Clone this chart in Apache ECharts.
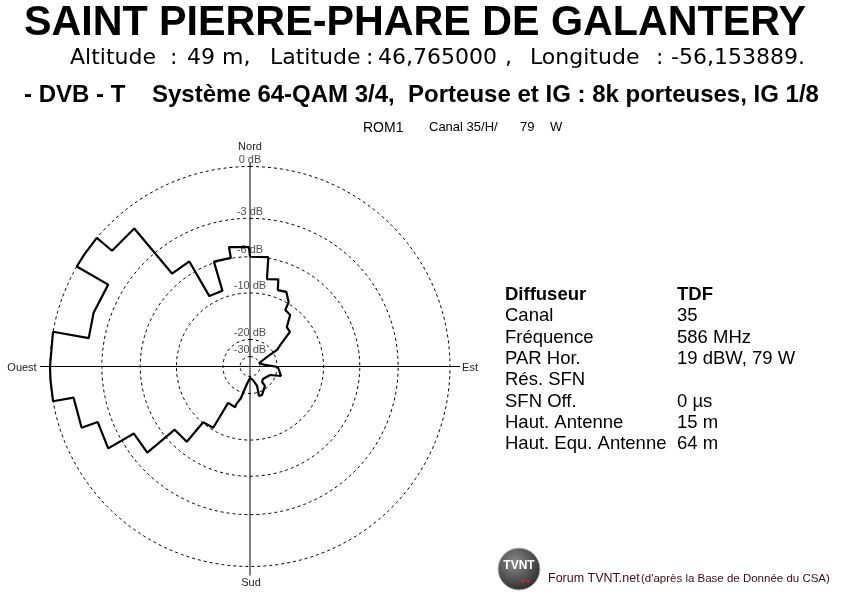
<!DOCTYPE html>
<html>
<head>
<meta charset="utf-8">
<script src="https://cdn.jsdelivr.net/npm/echarts@6/dist/echarts.min.js"></script>
<style>
  html, body { margin: 0; padding: 0; background: #ffffff; }
  #chart { width: 850px; height: 600px; }
</style>
</head>
<body>
<div id="chart"></div>
<script>
// ---- Data ----
// Antenna pattern vertices: azimuth (degrees, clockwise from North) and attenuation (dB)
const azimuthDeg = [0, 9.5, 11, 18, 20, 26, 31, 32, 38, 43,
  49, 54, 58.5, 60, 63.5, 69, 84, 91, 107, 113,
  134, 142, 142.5, 157, 163, 160, 167.5, 180, 190, 194,
  196, 200, 200, 211, 211, 220, 220, 230, 230, 240,
  240, 250, 250, 260, 260, 266, 270, 280, 280, 289,
  300, 300, 304, 310, 310, 320, 320, 330, 330, 340,
  341, 350, 350, 359.5, 360];
const attenuationDb = [-6.0, -5.9, -8.1, -7.8, -9.0, -8.8, -9.8, -11.0, -11.2, -13.1,
  -13.3, -16.5, -18.4, -22.6, -26.2, -30.3, -25.9, -19.7, -18.2, -22.2,
  -24.1, -23.2, -21.0, -18.7, -18.7, -22.7, -26.6, -28.6, -24.2, -20.7,
  -18.1, -16.1, -15.3, -15.5, -10.3, -10.1, -7.1, -7.1, -4.0, -4.0,
  -2.0, -2.1, -1.1, -1.1, 0, 0, 0, 0, -2.0, -1.9,
  -2.0, 0, 0, 0, -1.05, -1.05, -5.0, -5.0, -9.0, -9.1,
  -5.9, -5.95, -5.0, -5.15, -6.0];

// Rings of the diagram (dB) and their labels
const ringDb = [0, -3, -6, -10, -20, -30];
const ringLabels = ['0 dB', '-3 dB', '-6 dB', '-10 dB', '-20 dB', '-30 dB'];

// Compass labels
const compassLabels = ['Nord', 'Est', 'Sud', 'Ouest'];

// Texts
const titleText = 'SAINT PIERRE-PHARE DE GALANTERY';
const sitePieces = ['Altitude', ':', '49 m,', 'Latitude', ':', '46,765000', ',', 'Longitude', ':', '-56,153889.'];
const systemText = '- DVB - T    Système 64-QAM 3/4,  Porteuse et IG : 8k porteuses, IG 1/8';
const stationName = 'ROM1';
const stationDetail = ['Canal 35/H/', '79', 'W'];
const infoLabels = ['Diffuseur', 'Canal', 'Fréquence', 'PAR Hor.', 'Rés. SFN', 'SFN Off.', 'Haut. Antenne', 'Haut. Equ. Antenne'];
const infoValues = ['TDF', '35', '586 MHz', '19 dBW, 79 W', '', '0 µs', '15 m', '64 m'];
const footerMain = 'Forum TVNT.net';
const footerNote = "(d'après la Base de Donnée du CSA)";

// ---- Scale: relative field = exp(dB/10) (diagram's dB ring spacing) ----
const toRadius = db => Math.exp(db / 10);

const patternData = azimuthDeg.map((a, i) => [toRadius(attenuationDb[i]), a]);

const ringSeries = ringDb.map(db => {
  const pts = [];
  for (let a = 0; a <= 360; a += 2) pts.push([toRadius(db), a]);
  return {
    type: 'line', coordinateSystem: 'polar', data: pts, symbol: 'none', silent: true,
    lineStyle: { color: '#000', width: 1, type: [3, 3] }, z: 1
  };
});

const FONT = '"Liberation Sans", Arial, sans-serif';

// layout of header line 2 pieces (x positions)
const siteX = [70, 170, 187, 270, 366, 378, 505, 530, 656, 671];
const siteGraphics = sitePieces.map((t, i) => ({
  type: 'text', left: siteX[i], top: 47,
  style: { text: t, font: '22px "DejaVu Sans", sans-serif', fill: '#000' }
}));

const detailX = [429, 520, 550];
const detailGraphics = stationDetail.map((t, i) => ({
  type: 'text', left: detailX[i], top: 121,
  style: { text: t, font: '13px ' + FONT, fill: '#000' }
}));

const infoGraphics = [];
infoLabels.forEach((lab, i) => {
  const bold = i === 0;
  infoGraphics.push({
    type: 'text', left: 505, top: 285.5 + i * 21.3,
    style: { text: lab, font: (bold ? 'bold ' : '') + '18.5px ' + FONT, fill: '#000' }
  });
  infoGraphics.push({
    type: 'text', left: 677, top: 285.5 + i * 21.3,
    style: { text: infoValues[i], font: (bold ? 'bold ' : '') + '18.5px ' + FONT, fill: '#000' }
  });
});

const chart = echarts.init(document.getElementById('chart'), null, { renderer: 'canvas' });
chart.setOption({
  animation: false,
  backgroundColor: '#ffffff',
  polar: { center: [250, 366.5], radius: 210 },
  angleAxis: {
    type: 'value', min: 0, max: 360, startAngle: 90, clockwise: true,
    axisLine: { show: false }, axisTick: { show: false }, axisLabel: { show: false }, splitLine: { show: false }
  },
  radiusAxis: {
    type: 'value', min: 0, max: 1.05,
    axisLine: { show: false }, axisTick: { show: false }, axisLabel: { show: false }, splitLine: { show: false }
  },
  series: [
    ...ringSeries,
    { // North–South axis
      type: 'line', coordinateSystem: 'polar', symbol: 'none', silent: true,
      data: [[1.02, 0], [1.045, 180]], lineStyle: { color: '#000', width: 1 }, z: 2
    },
    { // West–East axis
      type: 'line', coordinateSystem: 'polar', symbol: 'none', silent: true,
      data: [[1.05, 270], [1.05, 90]], lineStyle: { color: '#000', width: 1 }, z: 2
    },
    { // ring labels
      type: 'scatter', coordinateSystem: 'polar', symbolSize: 0, silent: true,
      data: ringDb.map((db, i) => ({ value: [toRadius(db), 0], name: ringLabels[i] })),
      label: { show: true, position: 'top', distance: 1, formatter: p => p.name,
        fontFamily: FONT, fontSize: 11, color: '#222' }, z: 4
    },
    { // antenna pattern
      type: 'line', coordinateSystem: 'polar', symbol: 'none', silent: true,
      data: patternData, lineStyle: { color: '#000', width: 2.2 }, z: 5
    }
  ],
  graphic: [
    { type: 'text', x: 415, y: 23, scaleX: 0.982,
      style: { text: titleText, font: 'bold 42px ' + FONT, fill: '#000', align: 'center', verticalAlign: 'middle' } },
    ...siteGraphics,
    { type: 'text', left: 24, top: 83,
      style: { text: systemText, font: 'bold 24px ' + FONT, fill: '#000' } },
    { type: 'text', left: 363, top: 121,
      style: { text: stationName, font: '14px ' + FONT, fill: '#000' } },
    ...detailGraphics,
    { type: 'text', x: 250, y: 147,
      style: { text: compassLabels[0], font: '11px ' + FONT, fill: '#222', align: 'center', verticalAlign: 'middle' } },
    { type: 'text', x: 470, y: 368,
      style: { text: compassLabels[1], font: '11px ' + FONT, fill: '#222', align: 'center', verticalAlign: 'middle' } },
    { type: 'text', x: 251, y: 583,
      style: { text: compassLabels[2], font: '11px ' + FONT, fill: '#222', align: 'center', verticalAlign: 'middle' } },
    { type: 'text', x: 22, y: 368,
      style: { text: compassLabels[3], font: '11px ' + FONT, fill: '#222', align: 'center', verticalAlign: 'middle' } },
    ...infoGraphics,
    { type: 'circle', shape: { cx: 519, cy: 569, r: 21 },
      style: { fill: new echarts.graphic.RadialGradient(0.4, 0.35, 0.7, [
        { offset: 0, color: '#8a8a8a' }, { offset: 1, color: '#2a2a2a' }]), stroke: '#bbb', lineWidth: 1 } },
    { type: 'text', x: 519, y: 566,
      style: { text: 'TVNT', font: 'bold 12px ' + FONT, fill: '#fff', align: 'center', verticalAlign: 'middle' } },
    { type: 'circle', shape: { cx: 523, cy: 581, r: 1.5 }, style: { fill: '#d22' } },
    { type: 'circle', shape: { cx: 528, cy: 581, r: 1.5 }, style: { fill: '#d22' } },
    { type: 'text', left: 548, top: 572,
      style: { text: footerMain, font: '12.5px ' + FONT, fill: '#3d0d0d' } },
    { type: 'text', left: 641, top: 573,
      style: { text: footerNote, font: '11.5px ' + FONT, fill: '#3d0d0d' } }
  ]
});
</script>
</body>
</html>
